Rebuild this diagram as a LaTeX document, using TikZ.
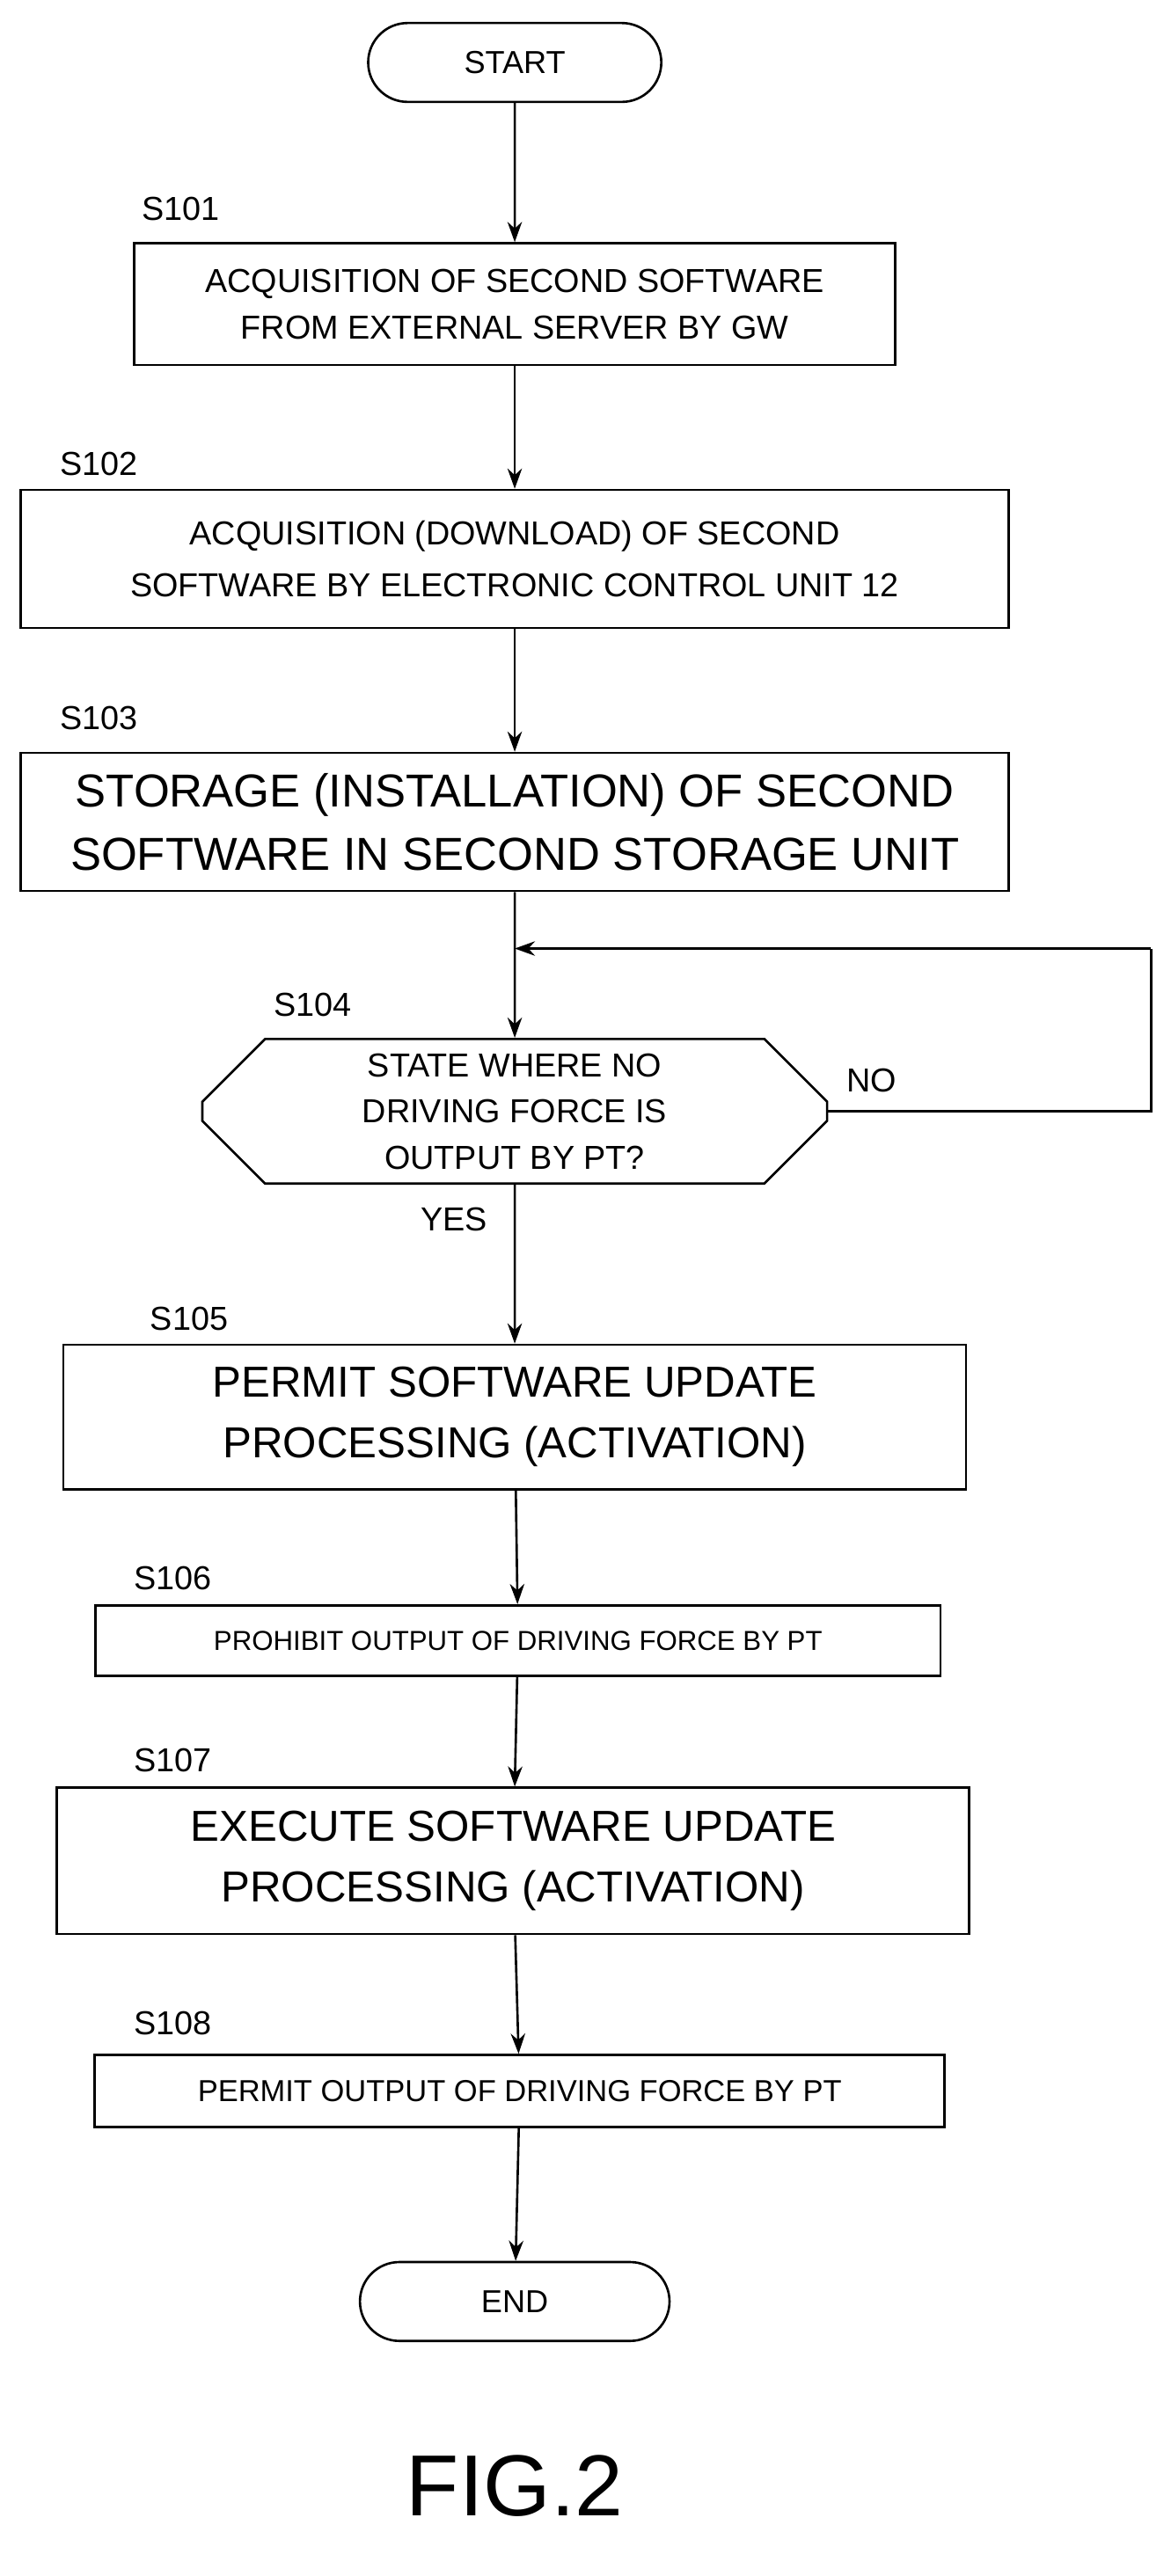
\documentclass[tikz,border=0pt]{standalone}
\usepackage{fontspec}
\setmainfont{Liberation Sans}
\usetikzlibrary{arrows.meta,shapes.misc,shapes.geometric}

\tikzset{
  box/.style={draw,line width=0.8pt,align=center,inner sep=0pt},
  term/.style={draw,line width=0.8pt,rounded rectangle,minimum width=3.8cm,minimum height=0.96cm,font=\fontsize{11}{13}\selectfont},
  lbl/.style={font=\fontsize{11.5}{13}\selectfont},
  flow/.style={line width=0.8pt,-{Stealth[length=7pt,width=5pt]}}
}

\begin{document}
\begin{tikzpicture}[x=0.02cm,y=-0.02cm]
	\useasboundingbox (0,0) rectangle (712,1567);
	
	\node[term] (start) at (313,38) {START};
	
	\node[lbl] at (110,127) {S101};
	\node[box,minimum width=9.26cm,minimum height=1.48cm,font=\fontsize{11.5}{16}\selectfont] (s1) at (313,185)
		{ACQUISITION OF SECOND SOFTWARE\\FROM EXTERNAL SERVER BY GW};
	
	\node[lbl] at (60,282) {S102};
	\node[box,minimum width=12.02cm,minimum height=1.68cm,font=\fontsize{11.5}{18}\selectfont] (s2) at (313,340)
		{ACQUISITION (DOWNLOAD) OF SECOND\\SOFTWARE BY ELECTRONIC CONTROL UNIT 12};
	
	\node[lbl] at (60,437) {S103};
	\node[box,minimum width=12.02cm,minimum height=1.68cm,font=\fontsize{16}{22}\selectfont] (s3) at (313,500)
		{STORAGE (INSTALLATION) OF SECOND\\SOFTWARE IN SECOND STORAGE UNIT};
	
	% decision
	\node[lbl] at (190,611) {S104};
	\node[draw,line width=0.8pt,chamfered rectangle,chamfered rectangle xsep=0.64cm,minimum width=7.6cm,minimum height=1.76cm,inner sep=0pt,align=center,font=\fontsize{11.5}{16}\selectfont] (s4) at (313,676)
		{STATE WHERE NO\\DRIVING FORCE IS\\OUTPUT BY PT?};
	\node[lbl] at (530,657) {NO};
	\node[lbl] at (276,742) {YES};
	
	\node[lbl] at (115,802) {S105};
	\node[box,minimum width=10.98cm,minimum height=1.76cm,font=\fontsize{15}{21}\selectfont] (s5) at (313,862)
		{PERMIT SOFTWARE UPDATE\\PROCESSING (ACTIVATION)};
	
	\node[lbl] at (105,960) {S106};
	\node[box,minimum width=10.28cm,minimum height=0.86cm,font=\fontsize{9.5}{12}\selectfont] (s6) at (315,998)
		{PROHIBIT OUTPUT OF DRIVING FORCE BY PT};
	
	\node[lbl] at (105,1071) {S107};
	\node[box,minimum width=11.1cm,minimum height=1.78cm,font=\fontsize{15}{21}\selectfont] (s7) at (312,1132)
		{EXECUTE SOFTWARE UPDATE\\PROCESSING (ACTIVATION)};
	
	\node[lbl] at (105,1231) {S108};
	\node[box,minimum width=10.34cm,minimum height=0.88cm,font=\fontsize{10.5}{12}\selectfont] (s8) at (316,1272)
		{PERMIT OUTPUT OF DRIVING FORCE BY PT};
	
	\node[term,minimum width=4cm] (end) at (313,1400) {END};
	
	\node[font=\fontsize{30}{34}\selectfont] (fig) at (313,1512) {FIG.2};
	
	\coordinate (loop) at (313,577);
	\coordinate (ne) at (700,577);
	\coordinate (se) at (700,676);
	
	\draw[flow] (start) -- (s1);
	\draw[flow] (s1) -- (s2);
	\draw[flow] (s2) -- (s3);
	\draw[flow] (s3) -- (s4);
	\draw[line width=0.8pt] (s4.east) -- (se) -- (ne);
	\draw[flow] (ne) -- (loop);
	\draw[flow] (s4) -- (s5);
	\draw[flow] (s5) -- (s6);
	\draw[flow] (s6) -- (s7);
	\draw[flow] (s7) -- (s8);
	\draw[flow] (s8) -- (end);
\end{tikzpicture}
\end{document}
